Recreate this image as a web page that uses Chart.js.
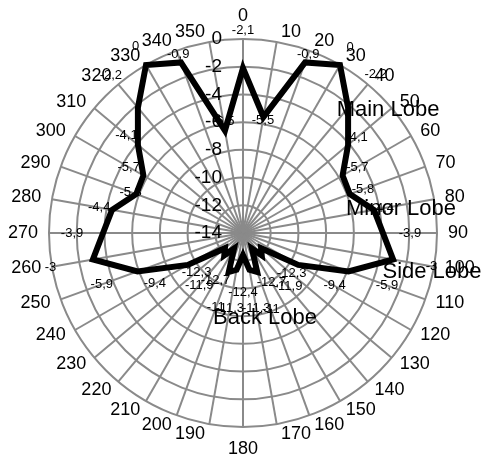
<!DOCTYPE html>
<html>
<head>
<meta charset="utf-8">
<script src="https://cdn.jsdelivr.net/npm/chart.js@4.4.1/dist/chart.umd.min.js"></script>
<style>
  html, body { margin: 0; padding: 0; background: #fff; }
  canvas { display: block; }
</style>
</head>
<body>
<canvas id="pattern" width="483" height="461"></canvas>
<script>
// spoke bearings in degrees
const bearings = ['0', '10', '20', '30', '40', '50', '60', '70', '80', '90', '100', '110',
  '120', '130', '140', '150', '160', '170', '180', '190', '200', '210', '220', '230',
  '240', '250', '260', '270', '280', '290', '300', '310', '320', '330', '340', '350'];

// measured level (dB) at each bearing
const levels = [-2.1, -5.5, -0.9, 0, -2.2, -4.1, -5.7, -5.8, -4.4, -3.9, -3, -5.9,
  -9.4, -12.3, -11.9, -12.7, -11, -11.3, -12.4, -11.3, -11, -12.7, -11.9, -12.3,
  -9.4, -5.9, -3, -3.9, -4.4, -5.8, -5.7, -4.1, -2.2, 0, -0.9, -6.5];

// ring values printed up the 0° spoke
const radialTicks = [0, -2, -4, -6, -8, -10, -12, -14];

// how far each value label sits outward from its point, px
const labelGap = [38, -3, 9, 20, 43, 11, 17, 14, 9, 27, 39, 41, 42, 40, 41, 39, 40, 39,
  37, 39, 38, 37, 39, 37, 38, 38, 43, 31, 13, 6, 17, 15, 42, 21, 8, 9];

const FONT = '"Liberation Sans", Arial, sans-serif';
const GRID = '#8a8a8a';

const fmt = v => String(v).replace('.', ',');

// ring ticks, bearings, value labels and lobe names
const lobeText = {
  id: 'lobeText',
  afterDatasetsDraw(chart) {
    const ctx = chart.ctx;
    const r = chart.scales.r;
    const cx = r.xCenter, cy = r.yCenter, R = r.drawingArea;
    ctx.save();
    ctx.fillStyle = '#000';
    ctx.textBaseline = 'middle';

    ctx.font = '19px ' + FONT;
    ctx.textAlign = 'right';
    radialTicks.forEach(v => {
      ctx.fillText(String(v), cx - 21, cy - r.getDistanceFromCenterForValue(v));
    });

    ctx.font = '18px ' + FONT;
    ctx.textAlign = 'center';
    bearings.forEach((b, i) => {
      const a = r.getIndexAngle(i);
      const s = Math.sin(a), c = Math.cos(a);
      const rim = r.getPointPosition(i, R);
      const w = ctx.measureText(b).width, h = 13;
      let dx = 0, dy = -c * (h / 2 + 4);
      if (Math.abs(s) > 1e-6) {
        dx = Math.sign(s) * (w / 2 + 4 + 7 * s * s);
      } else {
        dy -= Math.sign(c) * 12;
      }
      ctx.fillText(b, rim.x + dx, rim.y + dy);
    });

    ctx.font = '13px ' + FONT;
    const meta = chart.getDatasetMeta(0);
    meta.data.forEach((pt, i) => {
      const a = r.getIndexAngle(i) - Math.PI / 2;
      const x = pt.x + Math.cos(a) * labelGap[i];
      const y = pt.y + Math.sin(a) * labelGap[i];
      ctx.fillText(fmt(levels[i]), x, y);
    });

    ctx.font = '22px ' + FONT;
    ctx.fillText('Main Lobe', cx + 145, cy - 123);
    ctx.fillText('Minor Lobe', cx + 158, cy - 24);
    ctx.fillText('Side Lobe', cx + 189, cy + 39);
    ctx.fillText('Back Lobe', cx + 22, cy + 85);
    ctx.restore();
  }
};

new Chart(document.getElementById('pattern'), {
  type: 'radar',
  data: {
    labels: bearings,
    datasets: [{
      data: levels,
      borderColor: '#000',
      borderWidth: 6,
      borderJoinStyle: 'miter',
      fill: false,
      tension: 0,
      pointRadius: 0,
      pointHoverRadius: 0
    }]
  },
  options: {
    responsive: false,
    animation: false,
    layout: { padding: { left: 49, right: 46, top: 39, bottom: 34 } },
    plugins: { legend: { display: false }, tooltip: { enabled: false } },
    scales: {
      r: {
        min: -14,
        max: 0,
        ticks: { stepSize: 2, display: false },
        grid: { circular: true, color: GRID, lineWidth: 2 },
        angleLines: { color: GRID, lineWidth: 2 },
        pointLabels: { display: false }
      }
    }
  },
  plugins: [lobeText]
});
</script>
</body>
</html>
